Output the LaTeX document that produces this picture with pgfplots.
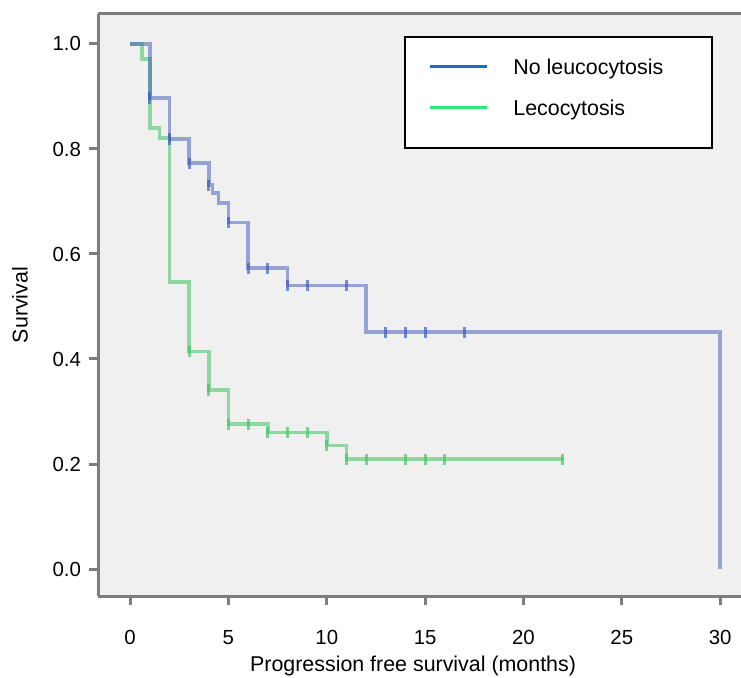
\documentclass[border=0pt]{standalone}
\usepackage{fontspec}
\setmainfont{Liberation Sans}
\usepackage{pgfplots}
\pgfplotsset{compat=1.18}

\definecolor{bggray}{RGB}{240,240,240}
\definecolor{axgray}{RGB}{125,125,125}
\definecolor{kmblue}{RGB}{60,85,185}
\definecolor{kmgreen}{RGB}{60,195,95}
\definecolor{legblue}{RGB}{25,110,200}
\definecolor{leggreen}{RGB}{40,235,120}

% step curves: (time, survival), drawn as const plot
\pgfplotstableread{
t s
0 1.0
1 0.897
2 0.819
3 0.773
4 0.731
4.2 0.716
4.5 0.697
5 0.660
6 0.573
8 0.540
12 0.451
30 0.0
}\noleuco
\pgfplotstableread{
t s
0 1.0
0.6 0.971
1 0.840
1.5 0.821
2 0.547
3 0.414
4 0.341
5 0.276
7 0.260
10 0.235
11 0.209
22 0.209
}\leuco
% censored observations
\pgfplotstableread{
t s
1 0.897
2 0.819
3 0.773
4 0.731
5 0.660
6 0.573
7 0.573
8 0.540
9 0.540
11 0.540
13 0.451
14 0.451
15 0.451
17 0.451
}\noleucocens
\pgfplotstableread{
t s
3 0.414
4 0.341
5 0.276
6 0.276
7 0.260
8 0.260
9 0.260
10 0.235
11 0.209
12 0.209
14 0.209
15 0.209
16 0.209
22 0.209
}\leucocens

\begin{document}
\begin{tikzpicture}
\begin{axis}[
    scale only axis,
    width=321.5bp, height=291bp,
    xmin=-1.63, xmax=31.06,
    ymin=-0.0514, ymax=1.0571,
    axis background/.style={fill=bggray},
    axis x line=box, axis y line=left,
    axis line style={-, axgray, line width=1.5bp},
    xtick={0,5,...,30}, ytick={0,0.2,0.4,0.6,0.8,1.0},
    xtick pos=bottom, ytick pos=left,
    tick align=outside,
    major tick length=4.5bp,
    tick style={axgray, line width=1.5bp},
    /pgf/number format/assume math mode=true,
    yticklabel style={/pgf/number format/fixed, /pgf/number format/fixed zerofill, /pgf/number format/precision=1},
    tick label style={font=\fontsize{10.2bp}{12bp}\selectfont},
    x tick label style={yshift=-9bp},
    y tick label style={xshift=-0.5bp},
    xlabel={Progression free survival (months)},
    ylabel={Survival},
    label style={font=\fontsize{10.7bp}{13bp}\selectfont},
    xlabel style={at={(axis description cs:0.49,-0.1203)}, anchor=center},
    ylabel style={at={(axis description cs:-0.1213,0.5)}, anchor=center},
    legend style={at={(rel axis cs:0.5132,0.9308)}, anchor=north west,
        draw=none, fill=none, inner sep=0pt, row sep=9.2bp, column sep=12.5bp,
        nodes={inner sep=0pt, text height=10bp, text depth=1.4bp,
               font=\fontsize{10.7bp}{13bp}\selectfont}},
    legend cell align=left,
    legend image code/.code={\draw[#1] (0bp,0bp) -- (28.5bp,0bp);},
]
\addplot[const plot, kmgreen, opacity=0.55, line width=1.8bp, forget plot] table {\leuco};
\addplot[only marks, mark=|, mark size=2.8bp, kmgreen, opacity=0.65, line width=1.5bp, forget plot] table {\leucocens};
\addplot[const plot, kmblue, opacity=0.5, line width=1.8bp, forget plot] table {\noleuco};
\addplot[only marks, mark=|, mark size=2.8bp, kmblue, opacity=0.65, line width=1.5bp, forget plot] table {\noleucocens};

\draw[black, line width=1.4bp, fill=white] (rel axis cs:0.4774,0.9605) rectangle (rel axis cs:0.9549,0.7698);
\addlegendimage{legblue, line width=1.5bp}
\addlegendentry{No leucocytosis}
\addlegendimage{leggreen, line width=1.5bp}
\addlegendentry{Lecocytosis}
\end{axis}
\pgfresetboundingbox
\path ([xshift=-49bp,yshift=-41bp]current axis.south west) rectangle ([yshift=7bp]current axis.north east);
\end{tikzpicture}
\end{document}
